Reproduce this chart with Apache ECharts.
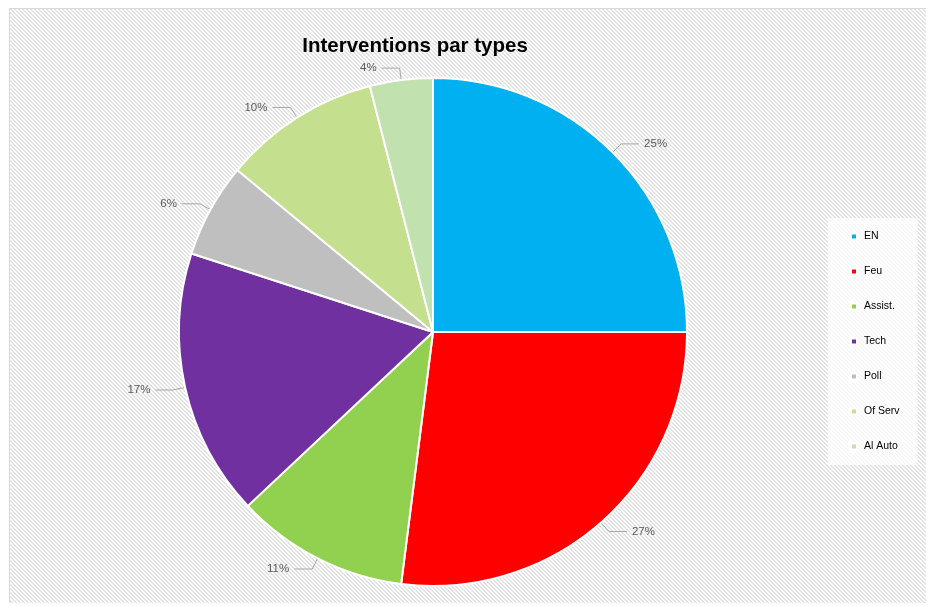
<!DOCTYPE html>
<html>
<head>
<meta charset="utf-8">
<script src="https://cdn.jsdelivr.net/npm/echarts@6/dist/echarts.min.js"></script>
<style>
html,body{margin:0;padding:0;background:#fff;}
#frame{position:absolute;left:9px;top:8px;width:916px;height:594px;border-top:1px solid #d9d9d9;border-left:1px solid #d9d9d9;
background-color:#fff;
background-image:url("data:image/svg+xml;utf8,<svg xmlns='http://www.w3.org/2000/svg' width='4' height='4' shape-rendering='crispEdges'><g fill='%23e2e2e2'><rect x='0' y='0' width='2' height='1'/><rect x='1' y='1' width='2' height='1'/><rect x='2' y='2' width='2' height='1'/><rect x='3' y='3' width='1' height='1'/><rect x='0' y='3' width='1' height='1'/></g></svg>");
background-size:4px 4px;}
#chart{position:absolute;left:0;top:0;width:929px;height:606px;}
</style>
</head>
<body>
<div id="frame"></div>
<div id="chart"></div>
<script>
const categories = ["EN","Feu","Assist.","Tech","Poll","Of Serv","Al Auto"];
const values = [25,27,11,17,6,10,4];
const colors = ["#00B0F0","#FF0000","#92D050","#7030A0","#BFBFBF","#C4DF8D","#C1E1AE"];

const chart = echarts.init(document.getElementById('chart'));
chart.setOption({
  backgroundColor: 'transparent',
  animation: false,
  title: {
    text: 'Interventions par types',
    left: 410, top: 31, textAlign: 'center',
    textStyle: {fontFamily: 'Liberation Sans', fontWeight: 'bold', fontSize: 20.5, color: '#000'}
  },
  legend: {
    orient: 'vertical',
    left: 828, top: 218,
    padding: [13, 18, 13, 22],
    backgroundColor: 'rgba(255,255,255,0.8)',
    itemWidth: 6, itemHeight: 6, itemGap: 24,
    icon: 'rect',
    textStyle: {fontFamily: 'Liberation Sans', fontSize: 10.5, color: '#000', padding:[0,0,0,2]},
    data: categories
  },
  series: [{
    type: 'pie',
    center: [433, 332],
    radius: 254,
    startAngle: 90,
    clockwise: true,
    color: colors,
    itemStyle: {borderColor: '#fff', borderWidth: 2},
    label: {
      show: true,
      formatter: '{d}%',
      fontFamily: 'Liberation Sans',
      fontSize: 11.5,
      color: '#595959'
    },
    labelLine: {show: true, length: 12, length2: 18, lineStyle: {color: '#a6a6a6', width: 1}},
    emphasis: {disabled: true},
    data: categories.map((c, i) => ({name: c, value: values[i]}))
  }]
});
</script>
</body>
</html>
